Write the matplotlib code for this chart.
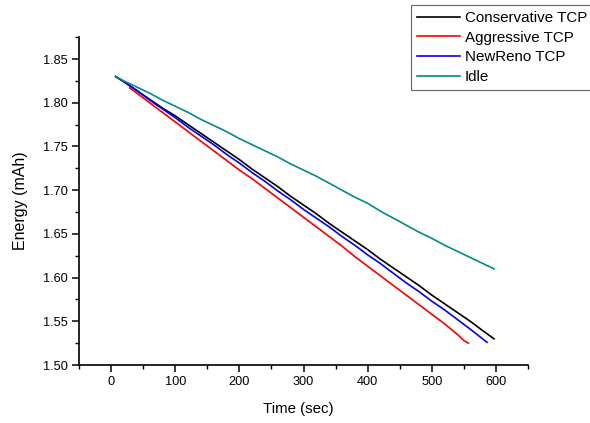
import numpy as np
import matplotlib.pyplot as plt
from matplotlib.ticker import MultipleLocator, FormatStrFormatter

plt.rcParams['font.family'] = ['Liberation Sans', 'DejaVu Sans']

# ==================================================
# data
# ==================================================

t_cons = [7, 20, 40, 60, 80, 100, 120, 140, 160, 180, 200, 220, 240, 260, 280,
          300, 320, 340, 360, 380, 400, 420, 440, 460, 480, 500, 520, 540, 560,
          580, 597]
e_cons = [1.830, 1.824, 1.814, 1.804, 1.794, 1.785, 1.775, 1.765, 1.755, 1.745,
          1.735, 1.724, 1.714, 1.704, 1.693, 1.683, 1.673, 1.662, 1.652, 1.642,
          1.632, 1.621, 1.611, 1.601, 1.591, 1.580, 1.570, 1.560, 1.550, 1.539,
          1.530]

t_aggr = [29, 40, 60, 80, 100, 120, 140, 160, 180, 200, 220, 240, 260, 280, 300,
          320, 340, 360, 380, 400, 420, 440, 460, 480, 500, 520, 540, 550, 557]
e_aggr = [1.817, 1.811, 1.800, 1.789, 1.778, 1.767, 1.756, 1.745, 1.734, 1.723,
          1.713, 1.702, 1.691, 1.680, 1.669, 1.658, 1.647, 1.636, 1.624, 1.613,
          1.602, 1.591, 1.580, 1.569, 1.558, 1.547, 1.535, 1.528, 1.525]

t_newreno = [7, 20, 40, 60, 80, 100, 120, 140, 160, 180, 200, 220, 240, 260, 280,
             300, 320, 340, 360, 380, 400, 420, 440, 460, 480, 500, 520, 540, 560,
             586]
e_newreno = [1.830, 1.824, 1.814, 1.803, 1.793, 1.783, 1.772, 1.762, 1.752, 1.741,
             1.731, 1.720, 1.710, 1.699, 1.689, 1.678, 1.668, 1.658, 1.647, 1.637,
             1.626, 1.616, 1.605, 1.594, 1.584, 1.573, 1.563, 1.552, 1.541, 1.526]

t_idle = [7, 20, 40, 60, 80, 100, 120, 140, 160, 180, 200, 220, 240, 260, 280,
          300, 320, 340, 360, 380, 400, 420, 440, 460, 480, 500, 520, 540, 560,
          580, 597]
e_idle = [1.830, 1.825, 1.818, 1.811, 1.803, 1.796, 1.789, 1.781, 1.774, 1.767,
          1.759, 1.752, 1.745, 1.738, 1.730, 1.723, 1.716, 1.708, 1.700, 1.692,
          1.685, 1.676, 1.668, 1.660, 1.652, 1.645, 1.637, 1.630, 1.623, 1.616,
          1.610]


# ==================================================
# plot
# ==================================================

fig = plt.figure(figsize=(5.9, 4.23), dpi=100)
ax = fig.add_axes([0.134, 0.137, 0.761, 0.775])

ax.plot(t_cons, e_cons, color="black", lw=1.2, label="Conservative TCP")
ax.plot(t_aggr, e_aggr, color="#ff0000", lw=1.2, label="Aggressive TCP")
ax.plot(t_newreno, e_newreno, color="#0000ff", lw=1.2, label="NewReno TCP")
ax.plot(t_idle, e_idle, color="#008b8b", lw=1.2, label="Idle")

ax.set_xlim(-50, 650)
ax.set_ylim(1.50, 1.875)

ax.xaxis.set_major_locator(MultipleLocator(100))
ax.xaxis.set_minor_locator(MultipleLocator(50))
ax.yaxis.set_major_locator(MultipleLocator(0.05))
ax.yaxis.set_minor_locator(MultipleLocator(0.025))
ax.yaxis.set_major_formatter(FormatStrFormatter("%.2f"))

ax.spines["top"].set_visible(False)
ax.spines["right"].set_visible(False)
for s in ("left", "bottom"):
    ax.spines[s].set_linewidth(1.2)

ax.tick_params(which="major", direction="out", length=5, width=1.1,
               labelsize=9.2, pad=3)
ax.tick_params(which="minor", direction="out", length=3, width=1.0)

ax.set_xlabel("Time (sec)", fontsize=10.8)
ax.xaxis.set_label_coords(0.489, -0.113)
ax.set_ylabel("Energy (mAh)", fontsize=11.5, labelpad=11)

leg = fig.legend(loc="upper left", bbox_to_anchor=(0.697, 0.988),
                 fontsize=10.9, frameon=True, fancybox=False,
                 edgecolor="#666666", framealpha=1, handlelength=2.85,
                 handletextpad=0.29, labelspacing=0.37, borderpad=0.4,
                 borderaxespad=0)
leg.get_frame().set_linewidth(0.8)

plt.savefig("out.png", dpi=100)
plt.close()
